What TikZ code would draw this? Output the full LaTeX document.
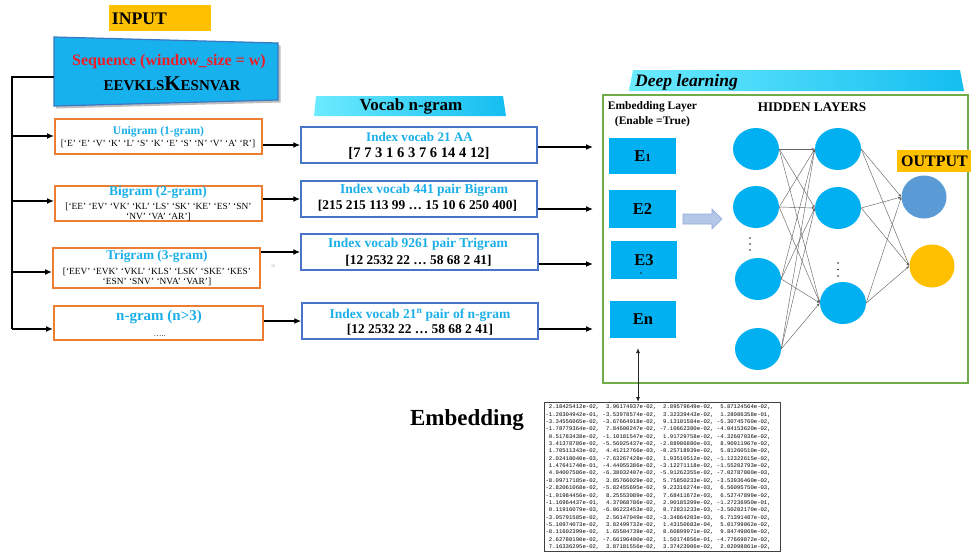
\documentclass[tikz,border=0pt]{standalone}
\usepackage{fontspec}
\setmainfont{Liberation Serif}
\setmonofont{Liberation Mono}
\usetikzlibrary{arrows.meta,shapes.geometric}
\definecolor{cyanF}{HTML}{00B0F0}
\definecolor{cyanT}{HTML}{1AAFE8}
\definecolor{orangeE}{HTML}{ED7D31}
\definecolor{blueB}{HTML}{4A74C9}
\definecolor{greenB}{HTML}{70AD47}
\definecolor{gold}{HTML}{FFC000}
\definecolor{outblue}{HTML}{5B9BD5}
\definecolor{seqred}{HTML}{EE1C25}
\definecolor{seqblue}{HTML}{17B1EE}
\definecolor{seqedge}{HTML}{3A78C2}
\definecolor{arrfill}{HTML}{B4C7E7}
\definecolor{arredge}{HTML}{8FAADC}
\definecolor{hdrL}{HTML}{6CEBFF}
\definecolor{hdrR}{HTML}{14BEF0}
\newcommand\fsz[2]{\fontsize{#1}{#2}\selectfont}
\begin{document}
\begin{tikzpicture}[x=1pt,y=-1pt,
  txt/.style={inner sep=0pt, align=center},
  obox/.style={draw=orangeE, line width=2pt, fill=white, inner sep=0pt},
  bbox/.style={draw=blueB, line width=1.4pt, fill=white, inner sep=0pt},
  ebox/.style={fill=cyanF, inner sep=0pt, font=\bfseries\fsz{16.5}{18}},
  neu/.style={ellipse, fill=cyanF, minimum width=46pt, minimum height=42pt, inner sep=0pt},
  outn/.style={ellipse, minimum width=45pt, minimum height=43pt, inner sep=0pt},
  conn/.style={line width=1.8pt, black},
  arr/.style={line width=1.8pt, black, -{Latex[length=7pt,width=6pt]}},
  narr/.style={line width=0.45pt, draw=black!60, -{Latex[length=3pt,width=2.4pt]}},
  ttl/.style={txt, text=cyanT, font=\bfseries\fsz{13.5}{15}},
  lst/.style={txt, font=\fsz{9.4}{10.6}},
  num/.style={txt, font=\bfseries\fsz{13.4}{15}},
  dotf/.style={fill=black!85}
]
\useasboundingbox (0,0) rectangle (971,552);
\fill[white] (0,0) rectangle (971,552);

% ---------- INPUT ----------
\node[fill=gold, minimum width=102pt, minimum height=26pt, inner sep=0pt] (inp) at (159.5,18) {};
\node[txt, font=\bfseries\fsz{17.7}{20}] (inpT) at (139.5,18.8) {INPUT};

% ---------- sequence box ----------
\fill[black!25] (56,39.5) -- (280.5,45.5) -- (280.5,102.5) -- (56,108.5) -- cycle;
\draw[draw=seqedge, fill=seqblue, line width=1.2pt] (54,37) -- (278,43) -- (278,100) -- (54,106) -- cycle;
\coordinate (seqW) at (54,77);
\node[txt, text=seqred, font=\bfseries\fsz{16}{18}] (seqT) at (169,62) {Sequence (window\_size = w)};
\node[txt, anchor=base, font=\bfseries\fsz{15}{18}] (seqS) at (172,90) {EEVKLS{\fsz{21}{22}K}ESNVAR};

% ---------- n-gram boxes ----------
\node[obox, minimum width=207pt, minimum height=35pt] (uni) at (158.5,136.5) {};
\node[ttl, font=\bfseries\fsz{11.6}{13}] (uniT) at (158.5,132) {Unigram (1-gram)};
\node[lst] (uniL) at (158,144) {[‘E’ ‘E’ ‘V’ ‘K’ ‘L’ ‘S’ ‘K’ ‘E’ ‘S’ ‘N’ ‘V’ ‘A’ ‘R’]};

\node[obox, minimum width=207pt, minimum height=35pt] (bi) at (158.5,203.5) {};
\node[ttl] (biT) at (158,192) {Bigram (2-gram)};
\node[lst] (biL) at (158.5,212) {[‘EE’ ‘EV’ ‘VK’ ‘KL’ ‘LS’ ‘SK’ ‘KE’ ‘ES’ ‘SN’\\ ‘NV’ ‘VA’ ‘AR’]};

\node[obox, minimum width=207pt, minimum height=40pt] (tri) at (156.5,268) {};
\node[ttl, font=\bfseries\fsz{13.3}{15}] (triT) at (157,256) {Trigram (3-gram)};
\node[lst] (triL) at (157,276.7) {[‘EEV’ ‘EVK’ ‘VKL’ ‘KLS’ ‘LSK’ ‘SKE’ ‘KES’\\ ‘ESN’ ‘SNV’ ‘NVA’ ‘VAR’]};

\node[obox, minimum width=209pt, minimum height=34pt] (ng) at (158.5,323) {};
\node[ttl, font=\bfseries\fsz{15}{17}] (ngT) at (159,317.3) {n-gram (n>3)};
\node[txt, anchor=base, font=\fsz{8}{9}] (ngD) at (159.5,336.5) {…..};

% ---------- tree connector ----------
\coordinate (tk) at (12,77);
\coordinate (b1) at (12,136);
\coordinate (b2) at (12,201);
\coordinate (b3) at (12,272);
\coordinate (b4) at (12,329);
\draw[conn] (seqW) -- (tk) -- (b4);
\draw[arr] (b1) -- (b1 -| uni.west);
\draw[arr] (b2) -- (b2 -| bi.west);
\draw[arr] (b3) -- (b3 -| tri.west);
\draw[arr] (b4) -- (b4 -| ng.west);

% ---------- Vocab header ----------
\shade[left color=hdrL, right color=hdrR] (316,96) -- (503,96) -- (506,116) -- (314,116) -- cycle;
\node[txt, font=\bfseries\fsz{17}{19}] (vocT) at (411,106) {Vocab n-gram};

% ---------- vocab boxes ----------
\node[bbox, minimum width=236pt, minimum height=36pt] (vb1) at (419,145) {};
\node[ttl, font=\bfseries\fsz{13.1}{15}] (vb1T) at (419.5,137) {Index vocab 21 AA};
\node[num, font=\bfseries\fsz{14.6}{16}] (vb1N) at (419,153) {[7 7 3 1 6 3 7 6 14 4 12]};

\node[bbox, minimum width=236pt, minimum height=36pt] (vb2) at (419,199) {};
\node[ttl] (vb2T) at (424,190.7) {Index vocab 441 pair Bigram};
\node[num] (vb2N) at (417.5,206) {[215 215 113 99 … 15 10 6 250 400]};

\node[bbox, minimum width=237pt, minimum height=36pt] (vb3) at (419.5,252) {};
\node[ttl] (vb3T) at (418,244) {Index vocab 9261 pair Trigram};
\node[num] (vb3N) at (418.5,261) {[12 2532 22 … 58 68 2 41]};

\node[bbox, minimum width=236pt, minimum height=36pt] (vb4) at (420,321) {};
\node[ttl] (vb4T) at (420,315) {Index vocab 21\textsuperscript{n} pair of n-gram};
\node[num] (vb4N) at (420,330) {[12 2532 22 … 58 68 2 41]};

\node[txt, text=black!35, font=\fsz{4}{5}] (pg) at (273,266) {20};

% orange -> blue arrows
\draw[arr] (uni.east |- vb1.west) -- (vb1.west);
\draw[arr] (bi.east |- vb2.west) -- (vb2.west);
\draw[arr] (tri.east |- vb3.west) -- (vb3.west);
\draw[arr] (ng.east |- vb4.west) -- (vb4.west);

% blue -> deep learning arrows
\coordinate (t1) at (593,147);
\coordinate (t2) at (593,209);
\coordinate (t3) at (593,264);
\coordinate (t4) at (593,329);
\draw[arr] (vb1.east |- t1) -- (t1);
\draw[arr] (vb2.east |- t2) -- (t2);
\draw[arr] (vb3.east |- t3) -- (t3);
\draw[arr] (vb4.east |- t4) -- (t4);

% ---------- Deep learning ----------
\shade[left color=hdrL, right color=hdrR] (633,70) -- (960,70) -- (964,91) -- (629,91) -- cycle;
\node[txt, anchor=base west, font=\bfseries\itshape\fsz{17.5}{19}] (dlT) at (635,86) {Deep learning};
\node[draw=greenB, line width=2.6pt, minimum width=365pt, minimum height=288pt, inner sep=0pt] (dl) at (785.5,239) {};

\node[txt, font=\bfseries\fsz{11.5}{14.7}] (embL) at (652.5,114) {Embedding Layer\\(Enable =True)};
\node[txt, font=\bfseries\fsz{13.2}{15}] (hid) at (812,107) {HIDDEN LAYERS};

\node[ebox, minimum width=67pt, minimum height=36pt] (E1) at (642.5,156) {E{\fsz{11}{12}1}};
\node[ebox, minimum width=67pt, minimum height=38pt] (E2) at (642.5,209) {E2};
\node[ebox, minimum width=66pt, minimum height=38pt] (E3) at (644,260) {E3};
\fill[dotf] (641,273) circle[radius=0.9pt];
\node[ebox, minimum width=66pt, minimum height=37pt] (En) at (643,319.5) {En};

% block arrow
\draw[draw=arredge, fill=arrfill, line width=0.6pt] (683,214) -- (712,214) -- (712,209) -- (722,219) -- (712,229) -- (712,224) -- (683,224) -- cycle;

% neurons
\node[neu] (c1) at (756,149) {};
\node[neu] (c2) at (756,207) {};
\node[neu] (c3) at (758,279) {};
\node[neu] (c4) at (758,349) {};
\node[neu] (c5) at (838,149) {};
\node[neu] (c6) at (838,208) {};
\node[neu] (c7) at (843,303) {};
\node[outn, fill=outblue] (o1) at (924,197) {};
\node[outn, fill=gold] (o2) at (932,266) {};

\foreach \y in {238,244,250} \fill[dotf] (750,\y) circle[radius=0.9pt];
\foreach \y in {263,269.5,276} \fill[dotf] (838,\y) circle[radius=0.9pt];

\foreach \s in {c1,c2,c3,c4}{\foreach \t in {c5,c6,c7}{\draw[narr] (\s.east) -- (\t.west);}}
\foreach \s in {c5,c6,c7}{\foreach \t in {o1,o2}{\draw[narr] (\s.east) -- (\t.west);}}

\node[fill=gold, minimum width=74pt, minimum height=22pt, inner sep=0pt] (outB) at (934,161) {};
\node[txt, font=\bfseries\fsz{16}{18}] (outT) at (934.5,161) {OUTPUT};

% ---------- Embedding matrix ----------
\node[txt, font=\bfseries\fsz{23}{25}, anchor=base] (embT) at (467,425) {Embedding};
\node[draw=black!75, line width=1.3pt, anchor=north west, minimum width=236pt, minimum height=149pt, inner sep=0pt] (mat) at (544,402) {\ttfamily\fsz{5.6}{7.35}%
\begin{tabular}{@{}r@{\hspace{3.36pt}}r@{\hspace{3.36pt}}r@{\hspace{3.36pt}}r@{\hspace{9pt}}}
2.18425412e-02, & 3.96174937e-02, & 2.89579649e-02, & 5.87124564e-02,\\
-1.20304942e-01, & -3.53978574e-02, & 3.32339443e-02, & 1.28086358e-01,\\
-3.34556065e-02, & -3.67664918e-02, & 9.13101584e-02, & -5.30745760e-02,\\
-1.78779364e-02, & 7.84600247e-02, & -7.10662380e-02, & -4.04153620e-02,\\
0.51783438e-02, & -1.10181547e-02, & 1.91729758e-02, & -4.32607036e-02,\\
3.41378786e-02, & -5.56025437e-02, & -2.88986880e-03, & 8.90911967e-02,\\
1.70511343e-02, & 4.41212766e-03, & -8.25718939e-02, & 5.81260510e-02,\\
2.02418040e-03, & -7.63267428e-02, & 1.93510512e-02, & -1.12322615e-02,\\
1.47641740e-01, & -4.44055386e-02, & -3.12271118e-02, & -1.55202793e-02,\\
4.94007586e-02, & -6.38032407e-02, & -5.91262355e-02, & -7.02787800e-03,\\
-8.09717185e-02, & 3.85766029e-02, & 5.75850233e-02, & -3.53936460e-02,\\
-2.82061068e-02, & -5.82455695e-02, & 9.23316274e-03, & 6.56095750e-03,\\
-1.91984456e-02, & 8.25553089e-02, & 7.68411672e-03, & 6.52747899e-02,\\
-1.16964437e-01, & 4.37068786e-02, & 2.90185399e-02, & -1.27236950e-01,\\
0.11916079e-03, & -6.06223453e-02, & 8.72831233e-03, & -3.50282170e-02,\\
-3.05791585e-02, & 2.56147049e-02, & -3.34864203e-03, & 6.71391487e-02,\\
-5.10974073e-02, & 3.82499732e-02, & 1.43150683e-04, & 5.01799062e-02,\\
-8.11602399e-02, & 1.65504739e-02, & 8.60899971e-02, & 9.84749869e-02,\\
2.62780190e-02, & -7.66196400e-02, & 1.50174856e-01, & -4.77669872e-02,\\
7.16336295e-02, & 3.87181556e-02, & 3.37423906e-02, & 2.02098861e-02,
\end{tabular}};
\coordinate (eTop) at (638,348);
\draw[{Latex[length=5pt,width=4pt]}-{Latex[length=5pt,width=4pt]}, line width=0.9pt, black!85] (eTop) -- (eTop |- mat.north);
\end{tikzpicture}
\end{document}
